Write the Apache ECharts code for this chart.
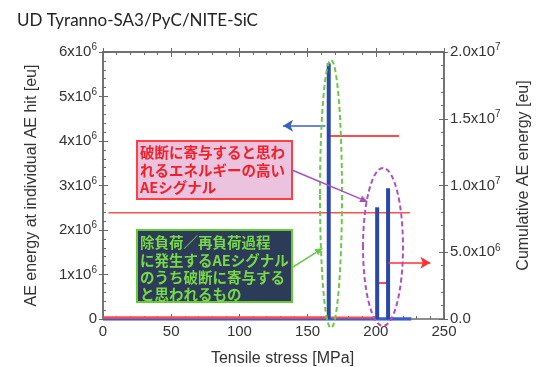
<!DOCTYPE html>
<html><head><meta charset="utf-8">
<script src="https://cdn.jsdelivr.net/npm/echarts@6/dist/echarts.min.js"></script>
<style>html,body{margin:0;padding:0;background:#fff}#c{width:537px;height:367px}</style>
</head><body><div id="c"></div>
<script>
// ---- data ----
const title = 'UD Tyranno-SA3/PyC/NITE-SiC';
const hitStress = [165.5, 201, 209];            // MPa
const hitEnergy = [5.75e6, 2.51e6, 2.94e6];     // eu
const lowHitStress = [0, 226];
const lowHitEnergy = [0, 0];
const cumStressA = [0, 165.5, 217];
const cumEnergyA = [0.12e6, 1.37e7, 1.37e7];
const cumStressB = [0, 201, 209];
const cumEnergyB = [0.12e6, 2.7e6, 4.22e6];
const refStress = [4, 225];
const refEnergy = [7.95e6, 7.95e6];
const xTicks = [0, 50, 100, 150, 200, 250];
const leftTicks = [0, 1e6, 2e6, 3e6, 4e6, 5e6, 6e6];
const rightTicks = [0, 5e6, 1e7, 1.5e7, 2e7];
const noteRed = ['破断に寄与すると思わ', 'れるエネルギーの高い', 'AEシグナル'];
const noteGreen = ['除負荷／再負荷過程', 'に発生するAEシグナル', 'のうち破断に寄与する', 'と思われるもの'];

const zip = (a, b) => a.map((v, i) => [v, b[i]]);
const AX = '#6a6a6a';
const FONT = '"Liberation Sans", Arial, sans-serif';
const rich = {
  b: { fontSize: 15, fontFamily: FONT, color: '#333' },
  s: { fontSize: 10, fontFamily: FONT, color: '#333', padding: [0, 0, 9, 0] }
};
function leftFmt(v) {
  if (v === 0) return '{b|0}';
  return '{b|' + (v / 1e6) + 'x10}{s|6}';
}
function rightFmt(v) {
  if (v === 0) return '{b|0.0}';
  const e = Math.floor(Math.log10(v));
  return '{b|' + (v / Math.pow(10, e)).toFixed(1) + 'x10}{s|' + e + '}';
}
const base = {
  splitLine: { show: false },
  axisLine: { show: true, onZero: false, lineStyle: { color: AX, width: 1.5 } }
};
const chart = echarts.init(document.getElementById('c'));

function arrow(x1, y1, x2, y2, color) {
  const dx = x2 - x1, dy = y2 - y1, L = Math.hypot(dx, dy);
  const ux = dx / L, uy = dy / L, px = -uy, py = ux, h = 8, w = 3.5;
  const bx = x2 - ux * h, by = y2 - uy * h;
  return [
    { type: 'line', shape: { x1, y1, x2: bx, y2: by }, style: { stroke: color, lineWidth: 1.5 }, z: 10 },
    { type: 'polygon', shape: { points: [[x2, y2], [bx + px * w, by + py * w], [bx - px * w, by - py * w]] }, style: { fill: color }, z: 10 }
  ];
}

const option = {
  animation: false,
  grid: { left: 103, right: 93, top: 52, bottom: 48, containLabel: false, outerBoundsMode: 'none' },
  title: { text: title, left: 12, top: 7, textStyle: { fontFamily: 'Lato, "Open Sans", sans-serif', fontSize: 17, fontWeight: 'normal', color: '#222' } },
  xAxis: [
    Object.assign({}, base, {
      type: 'value', min: xTicks[0], max: xTicks[xTicks.length - 1], interval: 50, position: 'bottom',
      axisTick: { show: true, inside: true, length: 5, lineStyle: { color: AX } },
      minorTick: { show: true, splitNumber: 5, length: 3, lineStyle: { color: AX } },
      axisLabel: { fontSize: 15, fontFamily: FONT, color: '#333', margin: 5 },
      name: 'Tensile stress [MPa]', nameLocation: 'middle', nameGap: 32,
      nameTextStyle: { fontSize: 16, fontFamily: FONT, color: '#333', padding: [0, 0, 0, 18] }
    }),
    Object.assign({}, base, {
      type: 'value', min: 0, max: 250, interval: 50, position: 'top',
      axisTick: { show: true, inside: true, length: 5, lineStyle: { color: AX } },
      minorTick: { show: true, splitNumber: 5, length: 3, lineStyle: { color: AX } },
      axisLabel: { show: false }
    }),
    Object.assign({}, base, {
      type: 'value', min: 0, max: 250, interval: 50, position: 'top',
      axisTick: { show: true, inside: false, length: 4, lineStyle: { color: AX } },
      axisLabel: { show: false }
    })
  ],
  yAxis: [
    Object.assign({}, base, {
      type: 'value', min: leftTicks[0], max: leftTicks[leftTicks.length - 1], interval: 1e6, position: 'left',
      axisTick: { show: true, inside: true, length: 5, lineStyle: { color: AX } },
      minorTick: { show: true, splitNumber: 5, length: 3, lineStyle: { color: AX } },
      axisLabel: { formatter: leftFmt, rich: rich, margin: 6 },
      name: 'AE energy at individual AE hit [eu]', nameLocation: 'middle', nameGap: 63,
      nameTextStyle: { fontSize: 16, fontFamily: FONT, color: '#333' }
    }),
    Object.assign({}, base, {
      type: 'value', min: rightTicks[0], max: rightTicks[rightTicks.length - 1], interval: 5e6, position: 'right',
      axisTick: { show: true, inside: true, length: 5, lineStyle: { color: AX } },
      minorTick: { show: true, splitNumber: 5, length: 3, lineStyle: { color: AX } },
      axisLabel: { formatter: rightFmt, rich: rich, margin: 6 },
      name: 'Cumulative AE energy [eu]', nameLocation: 'middle', nameGap: 72,
      nameTextStyle: { fontSize: 16, fontFamily: FONT, color: '#333', padding: [0, 0, 0, 20] }
    }),
    Object.assign({}, base, {
      type: 'value', min: 0, max: 6e6, interval: 1e6, position: 'left',
      axisTick: { show: true, inside: false, length: 4, lineStyle: { color: AX } },
      axisLabel: { show: false }
    }),
    Object.assign({}, base, {
      type: 'value', min: 0, max: 2e7, interval: 5e6, position: 'right',
      axisTick: { show: true, inside: false, length: 4, lineStyle: { color: AX } },
      axisLabel: { show: false }
    })
  ],
  series: [
    { type: 'line', xAxisIndex: 0, yAxisIndex: 0, data: zip(lowHitStress, lowHitEnergy), symbol: 'none',
      lineStyle: { color: '#3c5cc8', width: 3.5 }, z: 2 },
    { type: 'line', xAxisIndex: 0, yAxisIndex: 1, data: zip(cumStressA, cumEnergyA), step: 'end', symbol: 'none',
      lineStyle: { color: '#ff4b4b', width: 2 }, z: 3 },
    { type: 'line', xAxisIndex: 0, yAxisIndex: 1, data: zip(cumStressB, cumEnergyB), step: 'end', symbol: 'none',
      lineStyle: { color: '#ff4b4b', width: 2 }, z: 3,
      markLine: { silent: true, symbol: ['none', 'arrow'], symbolSize: [9, 10], label: { show: false },
        lineStyle: { color: '#ff3030', width: 1.5, type: 'solid' },
        data: [[{ coord: [209, 4.22e6] }, { coord: [240, 4.22e6] }]] } },
    { type: 'line', xAxisIndex: 0, yAxisIndex: 1, data: zip(refStress, refEnergy), symbol: 'none',
      lineStyle: { color: '#ff5050', width: 1.5 }, z: 3 },
    { type: 'bar', xAxisIndex: 0, yAxisIndex: 0, data: zip(hitStress, hitEnergy), barWidth: 4,
      itemStyle: { color: '#2a48a8' }, z: 4,
      markLine: { silent: true, symbol: ['none', 'arrow'], symbolSize: [9, 10], label: { show: false },
        lineStyle: { color: '#3a60c0', width: 1.5, type: 'solid' },
        data: [[{ coord: [163, 4.34e6] }, { coord: [132, 4.34e6] }]] } }
  ],
  graphic: [].concat(
    [
      { type: 'ellipse', shape: { cx: 331, cy: 194, rx: 11, ry: 134 }, style: { fill: 'none', stroke: '#6cc84a', lineWidth: 2, lineDash: [5, 3] }, z: 9 },
      { type: 'ellipse', shape: { cx: 383, cy: 247, rx: 20, ry: 79 }, style: { fill: 'none', stroke: '#b050c0', lineWidth: 2, lineDash: [5, 3] }, z: 9 },
      { type: 'rect', shape: { x: 137, y: 141, width: 155, height: 58 }, style: { fill: '#ecc3df', stroke: '#ff4040', lineWidth: 2 }, z: 8 },
      { type: 'text', x: 140, y: 144, style: { text: noteRed.join('\n'), fill: '#f0202a', font: 'bold 14.5px "Noto Sans CJK JP"', lineHeight: 17.5, verticalAlign: 'top' }, z: 11 },
      { type: 'rect', shape: { x: 137, y: 230, width: 155, height: 72 }, style: { fill: '#2c3b57', stroke: '#66cc33', lineWidth: 2 }, z: 8 },
      { type: 'text', x: 140, y: 234, style: { text: noteGreen.join('\n'), fill: '#78d848', font: 'bold 14.5px "Noto Sans CJK JP"', lineHeight: 17.4, verticalAlign: 'top' }, z: 11 }
    ],
    arrow(292, 170, 368, 202, '#a850b8'),
    arrow(293, 267, 323, 248, '#6cc84a')
  )
};
chart.setOption(option);
</script></body></html>
